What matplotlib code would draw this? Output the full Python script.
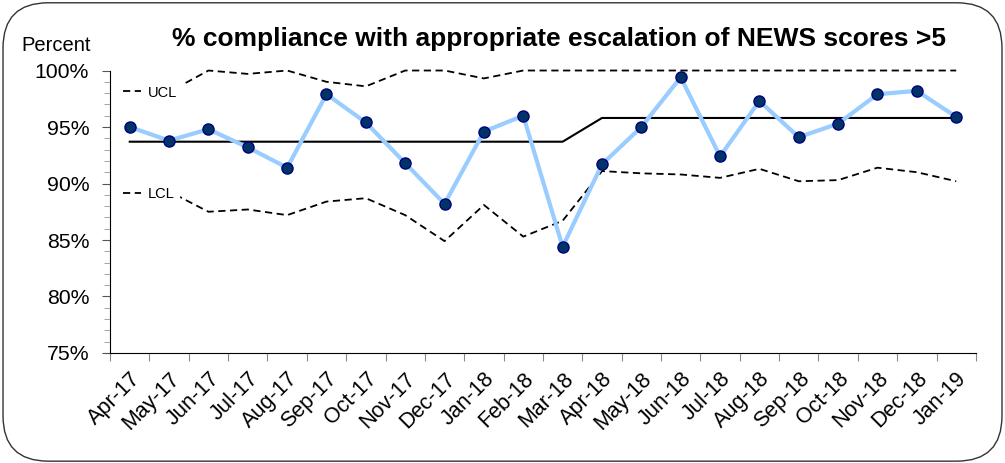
import matplotlib.pyplot as plt
from matplotlib.patches import FancyBboxPatch
from matplotlib.lines import Line2D
from matplotlib.ticker import MultipleLocator, FuncFormatter

plt.rcParams['font.family'] = ['Liberation Sans', 'DejaVu Sans']

months = ['Apr-17', 'May-17', 'Jun-17', 'Jul-17', 'Aug-17', 'Sep-17', 'Oct-17',
          'Nov-17', 'Dec-17', 'Jan-18', 'Feb-18', 'Mar-18', 'Apr-18', 'May-18',
          'Jun-18', 'Jul-18', 'Aug-18', 'Sep-18', 'Oct-18', 'Nov-18', 'Dec-18', 'Jan-19']
compliance = [95.0, 93.8, 94.8, 93.2, 91.4, 97.9, 95.4, 91.8, 88.2, 94.6, 96.0,
              84.4, 91.7, 95.0, 99.4, 92.4, 97.3, 94.1, 95.3, 97.9, 98.2, 95.9]
mean = [93.7] * 12 + [95.8] * 10
ucl = [98.6, 98.1, 100.0, 99.7, 100.0, 99.0, 98.6, 100.0, 100.0, 99.3, 100.0,
       100.0, 100.0, 100.0, 100.0, 100.0, 100.0, 100.0, 100.0, 100.0, 100.0, 100.0]
lcl = [88.8, 89.3, 87.5, 87.7, 87.2, 88.4, 88.7, 87.2, 84.9, 88.1, 85.3,
       86.7, 91.1, 90.9, 90.8, 90.5, 91.3, 90.2, 90.3, 91.4, 91.0, 90.2]

fig = plt.figure(figsize=(10.05, 4.63), dpi=100)
ax = fig.add_axes([0.1095, 0.2376, 0.8615, 0.6101])

# rounded frame round the whole chart
frame = FancyBboxPatch((0.003, 0.004), 0.994, 0.99, boxstyle='round,pad=0,rounding_size=0.045',
                       transform=fig.transFigure, fill=False, edgecolor='#333333',
                       linewidth=1.0, mutation_aspect=10.05 / 4.63, zorder=0)
fig.patches.append(frame)

x = range(len(months))
ax.plot(x, ucl, color='black', linestyle=(0, (4, 2.5)), linewidth=1.3, zorder=2, clip_on=False)
ax.plot(x, lcl, color='black', linestyle=(0, (4, 2.5)), linewidth=1.3, zorder=2)
ax.plot(x, mean, color='black', linewidth=1.5, zorder=3)
ax.plot(x, compliance, color='#99CCFF', linewidth=3, marker='o', markersize=8,
        markerfacecolor='#003366', markeredgecolor='#000080', markeredgewidth=1, zorder=4,
        clip_on=False)

ax.set_xlim(-0.5, len(months) - 0.5)
ax.set_ylim(75, 100)
ax.set_xticks([i + 0.5 for i in range(-1, len(months))], minor=False)
ax.set_xticklabels([])
ax.set_xticks(list(x), minor=True)
ax.set_xticklabels(months, minor=True, rotation=45, ha='right', rotation_mode='anchor', fontsize=15.5)
ax.tick_params(axis='x', which='minor', length=0, pad=11)
ax.tick_params(axis='x', which='major', length=6, color='#888888', direction='out')

ax.yaxis.set_major_locator(MultipleLocator(5))
ax.yaxis.set_minor_locator(MultipleLocator(1))
ax.yaxis.set_major_formatter(FuncFormatter(lambda v, p: f'{v:.0f}%'))
ax.tick_params(axis='y', which='major', length=6, labelsize=15.3, color='#555555', pad=9)
ax.tick_params(axis='y', which='minor', length=4, color='#999999')

ax.spines['top'].set_visible(False)
ax.spines['right'].set_visible(False)

dash = dict(color='black', linestyle=(0, (4, 2.5)), linewidth=1.3)
leg1 = ax.legend([Line2D([], [], **dash)], ['UCL'], loc='center left',
                 bbox_to_anchor=(0.0, 0.922), frameon=True, fontsize=10.5,
                 handlelength=1.2, handletextpad=0.5, borderpad=0.3, borderaxespad=0.6)
leg1.get_frame().set_edgecolor('white')
leg1.get_frame().set_alpha(1)
ax.add_artist(leg1)
leg2 = ax.legend([Line2D([], [], **dash)], ['LCL'], loc='center left',
                 bbox_to_anchor=(0.0, 0.562), frameon=True, fontsize=10.5,
                 handlelength=1.2, handletextpad=0.5, borderpad=0.3, borderaxespad=0.6)
leg2.get_frame().set_edgecolor('white')
leg2.get_frame().set_alpha(1)

fig.text(0.021, 0.89, 'Percent', fontsize=14.5)
fig.text(0.556, 0.9, '% compliance with appropriate escalation of NEWS scores >5',
         fontsize=19, fontweight='bold', ha='center')

plt.savefig('out.png', dpi=100)
